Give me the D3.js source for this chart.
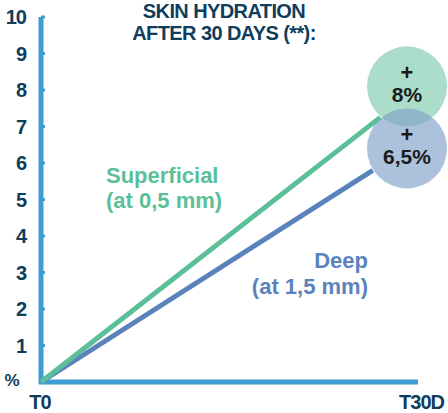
<!DOCTYPE html>
<html><head><meta charset="utf-8">
<script src="https://cdn.jsdelivr.net/npm/d3@7"></script>
<style>body{margin:0;background:#fff}text{font-family:"Liberation Sans",Arial,sans-serif;font-weight:bold}</style>
</head><body><div id="container"></div>
<script>
const yTicks = [1, 2, 3, 4, 5, 6, 7, 8, 9, 10];
const xLabels = ["T0", "T30D"];
const superficial = [[0, 0], [27, 7.25]];
const deep = [[0, 0], [26.4, 5.8]];
const bubbles = [{ label: "8%", v: 8.1, c: "#7fcaae" }, { label: "6,5%", v: 6.4, c: "#7f9fc8" }];

const svg = d3.select("#container").append("svg").attr("width", 448).attr("height", 413);
const x = d3.scaleLinear().domain([0, 30]).range([41, 418]);
const y = d3.scaleLinear().domain([0, 10]).range([382, 17]);
const dark = "#0f3d5c", axisC = "#3f9dd4";

// axes
svg.append("line").attr("x1", x(0)).attr("x2", x(0)).attr("y1", y(10)).attr("y2", y(0) + 2)
  .attr("stroke", axisC).attr("stroke-width", 5);
svg.append("line").attr("x1", x(0) - 2).attr("x2", x(30)).attr("y1", y(0)).attr("y2", y(0))
  .attr("stroke", axisC).attr("stroke-width", 5);
svg.selectAll(".tk").data(yTicks).enter().append("line")
  .attr("x1", x(0)).attr("x2", x(0) + 4).attr("y1", d => y(d)).attr("y2", d => y(d))
  .attr("stroke", axisC).attr("stroke-width", 3);
svg.selectAll(".tl").data(yTicks).enter().append("text")
  .attr("x", 26).attr("y", d => y(d) + 7).attr("text-anchor", "end")
  .attr("font-size", 20).attr("fill", dark).attr("letter-spacing", -1).text(d => d);
svg.append("text").attr("x", 12).attr("y", 386).attr("text-anchor", "middle")
  .attr("font-size", 17).attr("font-weight", "normal").attr("fill", dark).text("%");
svg.append("text").attr("x", x(0) - 1).attr("y", 409).attr("text-anchor", "middle")
  .attr("font-size", 20).attr("fill", dark).attr("letter-spacing", -1).text(xLabels[0]);
svg.append("text").attr("x", 444).attr("y", 409).attr("text-anchor", "end")
  .attr("font-size", 20).attr("fill", dark).attr("letter-spacing", -1).text(xLabels[1]);

// title
svg.append("text").attr("x", 224).attr("y", 18).attr("text-anchor", "middle")
  .attr("font-size", 20).attr("fill", dark).attr("letter-spacing", -0.6).text("SKIN HYDRATION");
svg.append("text").attr("x", 224).attr("y", 40).attr("text-anchor", "middle")
  .attr("font-size", 20).attr("fill", dark).attr("letter-spacing", -0.6).text("AFTER 30 DAYS (**):");

// lines
const line = d3.line().x(d => x(d[0])).y(d => y(d[1]));
svg.append("path").attr("d", line(deep)).attr("stroke", "#5b83bb").attr("stroke-width", 5).attr("fill", "none");
svg.append("path").attr("d", line(superficial)).attr("stroke", "#5bbf98").attr("stroke-width", 5).attr("fill", "none");

// bubbles
bubbles.forEach(b => {
  svg.append("circle").attr("cx", 407).attr("cy", y(b.v)).attr("r", 40)
    .attr("fill", b.c).attr("opacity", 0.65);
});
bubbles.forEach(b => {
  svg.append("text").attr("x", 407).attr("y", y(b.v) - 6).attr("text-anchor", "middle")
    .attr("font-size", 22).attr("fill", "#1a1a1a").text("+");
  svg.append("text").attr("x", 407).attr("y", y(b.v) + 16).attr("text-anchor", "middle")
    .attr("font-size", 21).attr("fill", "#1a1a1a").text(b.label);
});

// series labels
svg.append("text").attr("x", 106).attr("y", 183).attr("font-size", 22).attr("fill", "#5bbf98").text("Superficial");
svg.append("text").attr("x", 106).attr("y", 208).attr("font-size", 22).attr("fill", "#5bbf98").text("(at 0,5 mm)");
svg.append("text").attr("x", 368).attr("y", 268).attr("text-anchor", "end").attr("font-size", 22).attr("fill", "#5b83bb").text("Deep");
svg.append("text").attr("x", 368).attr("y", 294).attr("text-anchor", "end").attr("font-size", 22).attr("fill", "#5b83bb").text("(at 1,5 mm)");
</script></body></html>
